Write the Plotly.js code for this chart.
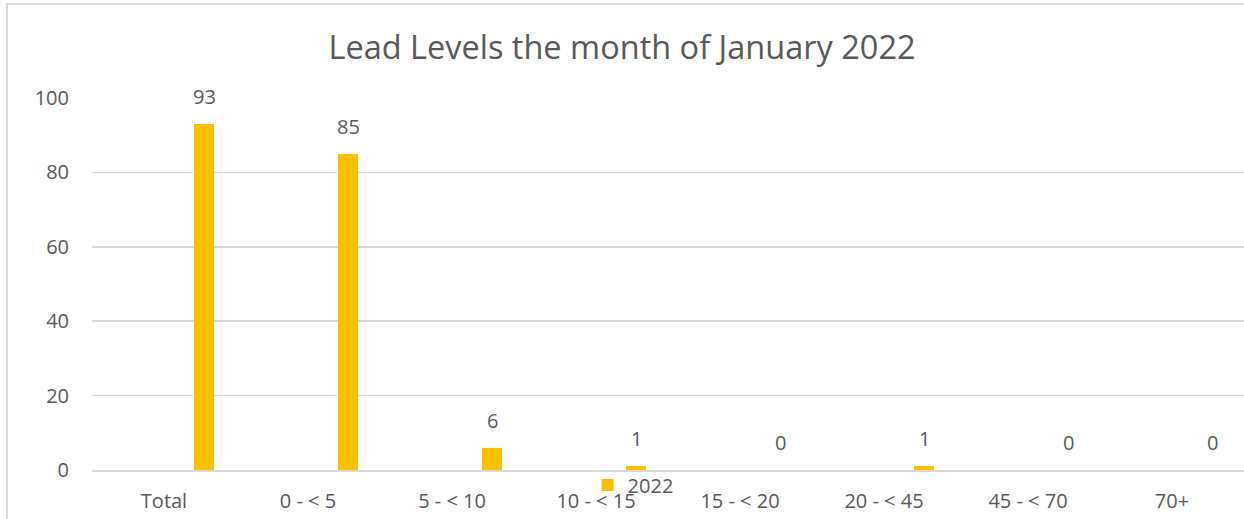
<!DOCTYPE html>
<html>
<head>
<meta charset="utf-8">
<script src="https://cdn.plot.ly/plotly-3.0.1.min.js"></script>
<style>
  html, body { margin: 0; padding: 0; background: #ffffff; }
  #chart { width: 1244px; height: 519px; }
</style>
</head>
<body>
<div id="chart"></div>
<script>
const categories = ["Total", "0 - < 5", "5 - < 10", "10 - < 15", "15 - < 20", "20 - < 45", "45 - < 70", "70+"];
const values2022 = [93, 85, 6, 1, 0, 1, 0, 0];
const seriesName = "2022";
const yTickVals = [0, 20, 40, 60, 80, 100];

const textColor = "#595959";
const gridColor = "#d9d9d9";
const barColor = "#FFC000";
const fontFamily = "'Open Sans', 'Noto Sans', sans-serif";

const barTrace = {
  type: "bar",
  x: categories,
  y: values2022,
  name: seriesName,
  marker: { color: barColor },
  width: 0.14,
  offset: 0.21,
  hoverinfo: "x+y",
  showlegend: true
};

const annotations = categories.map((c, i) => ({
  x: c,
  y: values2022[i],
  xref: "x",
  yref: "y",
  text: String(values2022[i]),
  showarrow: false,
  xanchor: "center",
  yanchor: "bottom",
  xshift: 40,
  yshift: 12,
  font: { family: fontFamily, size: 20, color: textColor }
}));

const layout = {
  width: 1244,
  height: 519,
  margin: { l: 92, r: 0, t: 98, b: 49, pad: 0 },
  paper_bgcolor: "#ffffff",
  plot_bgcolor: "#ffffff",
  font: { family: fontFamily, size: 20, color: textColor },
  title: {
    text: "Lead Levels the month of January 2022",
    font: { family: fontFamily, size: 32.5, color: textColor },
    x: 0.5,
    xref: "container",
    y: 1 - 48 / 519,
    yref: "container",
    xanchor: "center",
    yanchor: "middle"
  },
  xaxis: {
    type: "category",
    showgrid: false,
    showline: true,
    linecolor: gridColor,
    linewidth: 2,
    ticks: "",
    ticklabelstandoff: 12,
    tickfont: { family: fontFamily, size: 20, color: textColor },
    fixedrange: true
  },
  yaxis: {
    range: [0, 100],
    tickvals: yTickVals,
    showgrid: true,
    gridcolor: gridColor,
    gridwidth: 1.5,
    zeroline: false,
    showline: false,
    ticks: "",
    ticklabelstandoff: 22,
    tickfont: { family: fontFamily, size: 20, color: textColor },
    fixedrange: true
  },
  showlegend: true,
  legend: {
    orientation: "h",
    x: 0.4697,
    xanchor: "center",
    y: -0.04,
    yanchor: "middle",
    bgcolor: "rgba(0,0,0,0)",
    font: { family: fontFamily, size: 20, color: textColor },
    itemwidth: 30
  },
  annotations: annotations,
  shapes: [{
    type: "rect",
    xref: "paper",
    yref: "paper",
    x0: (7 - 92) / 1152,
    x1: 1.05,
    y0: -0.3,
    y1: 1 + (98 - 4) / 372,
    line: { color: gridColor, width: 2 },
    fillcolor: "rgba(0,0,0,0)",
    layer: "below"
  }],
  bargap: 0
};

Plotly.newPlot("chart", [barTrace], layout, { displayModeBar: false, staticPlot: true });
</script>
</body>
</html>
